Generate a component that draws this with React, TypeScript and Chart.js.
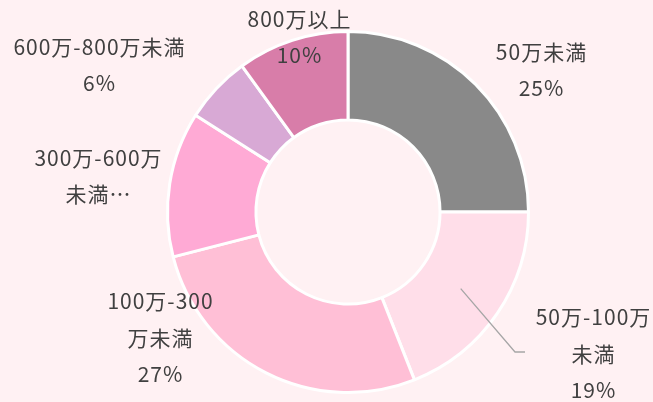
import React, { useEffect, useRef } from "react";
import { Chart, registerables } from "chart.js";

Chart.register(...registerables);

const categories: string[][] = [
  ["50万未満"],
  ["50万-100万", "未満"],
  ["100万-300", "万未満"],
  ["300万-600万", "未満…"],
  ["600万-800万未満"],
  ["800万以上"],
];
const values: number[] = [25, 19, 27, 13, 6, 10];
const percentLabels: string[] = ["25%", "19%", "27%", "", "6%", "10%"];
const colors: string[] = ["#898989", "#FFDEE9", "#FFBFD6", "#FFAAD5", "#D8A9D5", "#D87DA9"];

// label block centre offsets from the doughnut centre (layout)
const labelOffsets: [number, number][] = [
  [193, -142],
  [245, 142],
  [-188, 126],
  [-250, -36],
  [-249, -147],
  [-49, -175],
];

const BG = "#FFF1F3";

const labelPlugin = {
  id: "outsideLabels",
  afterDatasetsDraw(chart: any) {
    const ctx = chart.ctx;
    const meta = chart.getDatasetMeta(0);
    ctx.save();
    ctx.font = '21px "Noto Sans CJK JP", sans-serif';
    try {
      (ctx as any).letterSpacing = "1px";
    } catch (e) {}
    ctx.fillStyle = "#404040";
    ctx.textAlign = "center";
    ctx.textBaseline = "middle";
    const lh = 36.5;
    meta.data.forEach((arc: any, i: number) => {
      const { x, y, startAngle, endAngle, innerRadius, outerRadius } = arc.getProps(
        ["x", "y", "startAngle", "endAngle", "innerRadius", "outerRadius"],
        true
      );
      const lines = [...categories[i]];
      if (percentLabels[i]) lines.push(percentLabels[i]);
      const [dx, dy] = labelOffsets[i];
      const cx = x + dx + 0.5;
      const cy = y + dy;
      const top = cy - ((lines.length - 1) * lh) / 2;
      if (i === 1) {
        const mid = (startAngle + endAngle) / 2;
        const r = (innerRadius + outerRadius) / 2;
        const sx = x + Math.cos(mid) * r;
        const sy = y + Math.sin(mid) * r;
        ctx.save();
        ctx.strokeStyle = "#A6A6A6";
        ctx.lineWidth = 1.3;
        ctx.beginPath();
        ctx.moveTo(sx, sy);
        ctx.lineTo(x + 167, y + 140);
        ctx.lineTo(x + 177, y + 140);
        ctx.stroke();
        ctx.restore();
      }
      lines.forEach((t, k) => ctx.fillText(t, cx, top + k * lh));
    });
    ctx.restore();
  },
};

export default function App() {
  const ref = useRef<HTMLCanvasElement>(null);
  useEffect(() => {
    document.body.style.margin = "0";
    document.body.style.background = BG;
    const chart = new Chart(ref.current!, {
      type: "doughnut",
      data: {
        labels: categories.map((c) => c.join("")),
        datasets: [
          {
            data: values,
            backgroundColor: colors,
            borderColor: "#FFFFFF",
            borderWidth: 3,
            hoverOffset: 0,
          },
        ],
      },
      options: {
        responsive: false,
        animation: false,
        cutout: "51%",
        layout: { padding: { left: 166, right: 123, top: 30, bottom: 8 } },
        plugins: {
          legend: { display: false },
          tooltip: { enabled: false },
        },
      },
      plugins: [labelPlugin],
    });
    return () => chart.destroy();
  }, []);
  return (
    <div style={{ width: 653, height: 402, background: BG }}>
      <canvas ref={ref} width={653} height={402} style={{ display: "block" }} />
    </div>
  );
}
